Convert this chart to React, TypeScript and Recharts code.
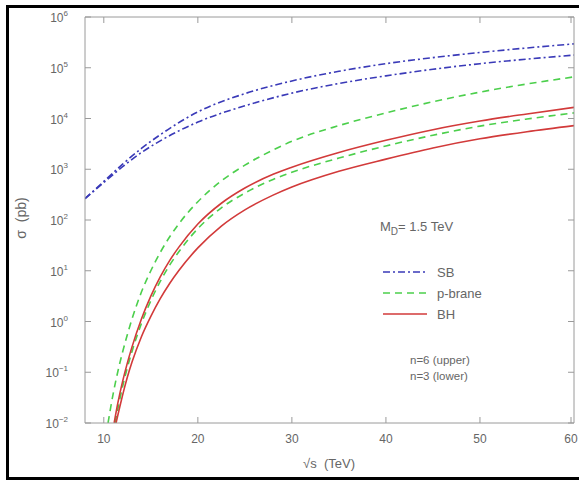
import { Line, LineChart, XAxis, YAxis } from "recharts";

// sqrt(s) in TeV, sigma stored as log10(pb)
const sbEnergy = [8, 10, 12, 14, 16, 20, 25, 30, 35, 40, 45, 50, 55, 60];
const sbUpper = [2.42, 2.76, 3.1, 3.41, 3.68, 4.13, 4.49, 4.74, 4.93, 5.08, 5.2, 5.3, 5.39, 5.47];
const sbLower = [2.42, 2.74, 3.05, 3.33, 3.56, 3.93, 4.25, 4.5, 4.69, 4.84, 4.97, 5.08, 5.17, 5.25];

const pbraneUpperEnergy = [10.45, 11, 11.5, 12, 12.5, 13, 14, 15, 16, 18, 20, 22.5, 25, 28, 30, 35, 40, 45, 50, 55, 60];
const pbraneUpper = [-2, -1.42, -0.98, -0.6, -0.26, 0.05, 0.58, 1.0, 1.36, 1.93, 2.36, 2.77, 3.08, 3.38, 3.55, 3.86, 4.11, 4.33, 4.52, 4.68, 4.82];

const pbraneLowerEnergy = [11.2, 11.6, 12, 12.5, 13, 14, 15, 16, 17, 18, 20, 22.5, 25, 28, 30, 35, 40, 45, 50, 55, 60];
const pbraneLower = [-2, -1.62, -1.28, -0.91, -0.59, -0.04, 0.41, 0.79, 1.11, 1.38, 1.83, 2.24, 2.53, 2.8, 2.94, 3.22, 3.46, 3.67, 3.85, 3.99, 4.11];

const bhUpperEnergy = [11.1, 11.5, 12, 12.5, 13, 14, 15, 16, 17, 18, 20, 22.5, 25, 28, 30, 35, 40, 45, 50, 55, 60];
const bhUpper = [-2, -1.6, -1.18, -0.82, -0.5, 0.05, 0.5, 0.88, 1.2, 1.47, 1.92, 2.33, 2.63, 2.9, 3.04, 3.33, 3.57, 3.78, 3.95, 4.09, 4.22];

const bhLowerEnergy = [11.3, 11.7, 12, 12.5, 13, 14, 15, 16, 17, 18, 20, 22.5, 25, 28, 30, 35, 40, 45, 50, 55, 60];
const bhLower = [-2, -1.68, -1.45, -1.1, -0.8, -0.3, 0.1, 0.45, 0.75, 1.01, 1.45, 1.88, 2.2, 2.49, 2.65, 2.96, 3.2, 3.42, 3.6, 3.74, 3.86];

const xTicks = [10, 20, 30, 40, 50, 60];
const yTicks = [-2, -1, 0, 1, 2, 3, 4, 5, 6];

const BLUE = "#3a3ab8";
const GREEN = "#4ccf4c";
const RED = "#d23a3a";
const FRAME = "#9a9a9a";
const TEXT = "#666";
const FONT = "'Liberation Sans', Arial, sans-serif";

// plot box edges (px)
const PL = 85;
const PR = 574;
const PT = 17;
const PB = 423;
const TICK = 6;

const toRows = (xs: number[], ys: number[]) => xs.map((s, i) => ({ s, v: ys[i] }));

// the last series is bound to the mirrored top/right axes (same domains)
const series = [
	{ key: "sbU", data: toRows(sbEnergy, sbUpper), stroke: BLUE, dash: "7 3 2 3", mirror: false },
	{ key: "pbU", data: toRows(pbraneUpperEnergy, pbraneUpper), stroke: GREEN, dash: "7 5", mirror: false },
	{ key: "pbL", data: toRows(pbraneLowerEnergy, pbraneLower), stroke: GREEN, dash: "7 5", mirror: false },
	{ key: "bhU", data: toRows(bhUpperEnergy, bhUpper), stroke: RED, dash: undefined, mirror: false },
	{ key: "bhL", data: toRows(bhLowerEnergy, bhLower), stroke: RED, dash: undefined, mirror: false },
	{ key: "sbL", data: toRows(sbEnergy, sbLower), stroke: BLUE, dash: "7 3 2 3", mirror: true },
];

const legendItems = [
	{ name: "SB", stroke: BLUE, dash: "7 3 2 3" },
	{ name: "p-brane", stroke: GREEN, dash: "7 5" },
	{ name: "BH", stroke: RED, dash: undefined },
];

function LeftTick({ y, payload }: any) {
	const exp = payload.value < 0 ? `\u2212${-payload.value}` : String(payload.value);
	return (
		<g>
			<line x1={PL} x2={PL + TICK} y1={y} y2={y} stroke={FRAME} />
			<text x={68} y={y + 5} textAnchor="end" fontSize={12} fill={TEXT} fontFamily={FONT}>
				10
				<tspan dy={-6} fontSize={8}>
					{exp}
				</tspan>
			</text>
		</g>
	);
}

function RightTick({ y }: any) {
	return <line x1={PR - TICK} x2={PR} y1={y} y2={y} stroke={FRAME} />;
}

function BottomTick({ x, payload }: any) {
	return (
		<g>
			<line x1={x} x2={x} y1={PB} y2={PB - TICK} stroke={FRAME} />
			<text x={x} y={PB + 20} textAnchor="middle" fontSize={12} fill={TEXT} fontFamily={FONT}>
				{payload.value}
			</text>
		</g>
	);
}

function TopTick({ x }: any) {
	return <line x1={x} x2={x} y1={PT} y2={PT + TICK} stroke={FRAME} />;
}

function LegendBox() {
	return (
		<svg width={150} height={70} style={{ position: "absolute", left: 380, top: 264 }}>
			{legendItems.map((it, i) => (
				<g key={it.name}>
					<line x1={3} x2={47} y1={8 + i * 21} y2={8 + i * 21} stroke={it.stroke} strokeWidth={1.5} strokeDasharray={it.dash} />
					<text x={57} y={13 + i * 21} fontSize={13} fill={TEXT} fontFamily={FONT}>
						{it.name}
					</text>
				</g>
			))}
		</svg>
	);
}

const label = {
	position: "absolute" as const,
	fontFamily: FONT,
	color: TEXT,
	whiteSpace: "pre" as const,
};

export default function App() {
	return (
		<div style={{ position: "absolute", left: 0, top: 0, width: 579, height: 481, overflow: "hidden", background: "#fff" }}>
			<div
				style={{
					position: "absolute",
					left: 6,
					top: 5,
					width: 590,
					height: 475,
					border: "3px solid #000",
					boxSizing: "border-box",
				}}
			/>
			<LineChart
				width={579}
				height={481}
				margin={{ top: PT - 1, right: 579 - PR - 1, left: 0, bottom: 481 - PB - 30 }}
				style={{ position: "absolute", left: 0, top: 0 }}
			>
				<XAxis
					dataKey="s"
					type="number"
					domain={[8, 60]}
					ticks={xTicks}
					allowDataOverflow
					height={30}
					axisLine={{ stroke: FRAME }}
					tickLine={false}
					tick={<BottomTick />}
				/>
				<XAxis
					xAxisId="top"
					orientation="top"
					dataKey="s"
					type="number"
					domain={[8, 60]}
					ticks={xTicks}
					allowDataOverflow
					height={1}
					axisLine={{ stroke: FRAME }}
					tickLine={false}
					tick={<TopTick />}
				/>
				<YAxis
					type="number"
					domain={[-2, 6]}
					ticks={yTicks}
					allowDataOverflow
					width={PL}
					axisLine={{ stroke: FRAME }}
					tickLine={false}
					tick={<LeftTick />}
				/>
				<YAxis
					yAxisId="right"
					orientation="right"
					type="number"
					domain={[-2, 6]}
					ticks={yTicks}
					allowDataOverflow
					width={1}
					axisLine={{ stroke: FRAME }}
					tickLine={false}
					tick={<RightTick />}
				/>
				{series.map((sr) => (
					<Line
						key={sr.key}
						data={sr.data}
						dataKey="v"
						xAxisId={sr.mirror ? "top" : 0}
						yAxisId={sr.mirror ? "right" : 0}
						type="monotone"
						stroke={sr.stroke}
						strokeWidth={1.6}
						strokeDasharray={sr.dash}
						dot={false}
						activeDot={false}
						isAnimationActive={false}
					/>
				))}
			</LineChart>
			<LegendBox />
			<div
				style={{
					...label,
					left: 21,
					top: 218,
					transform: "translate(-50%, -50%) rotate(-90deg)",
					fontSize: 14,
				}}
			>
				{"σ  (pb)"}
			</div>
			<div style={{ ...label, left: 329, top: 463, transform: "translate(-50%, -50%)", fontSize: 13 }}>
				{"√s  (TeV)"}
			</div>
			<div style={{ ...label, left: 380, top: 219, fontSize: 13 }}>
				M<sub style={{ fontSize: 10 }}>D</sub>{"= 1.5 TeV"}
			</div>
			<div style={{ ...label, left: 410, top: 352, fontSize: 11.5, lineHeight: "16px" }}>
				n=6 (upper)
				<br />
				n=3 (lower)
			</div>
		</div>
	);
}
